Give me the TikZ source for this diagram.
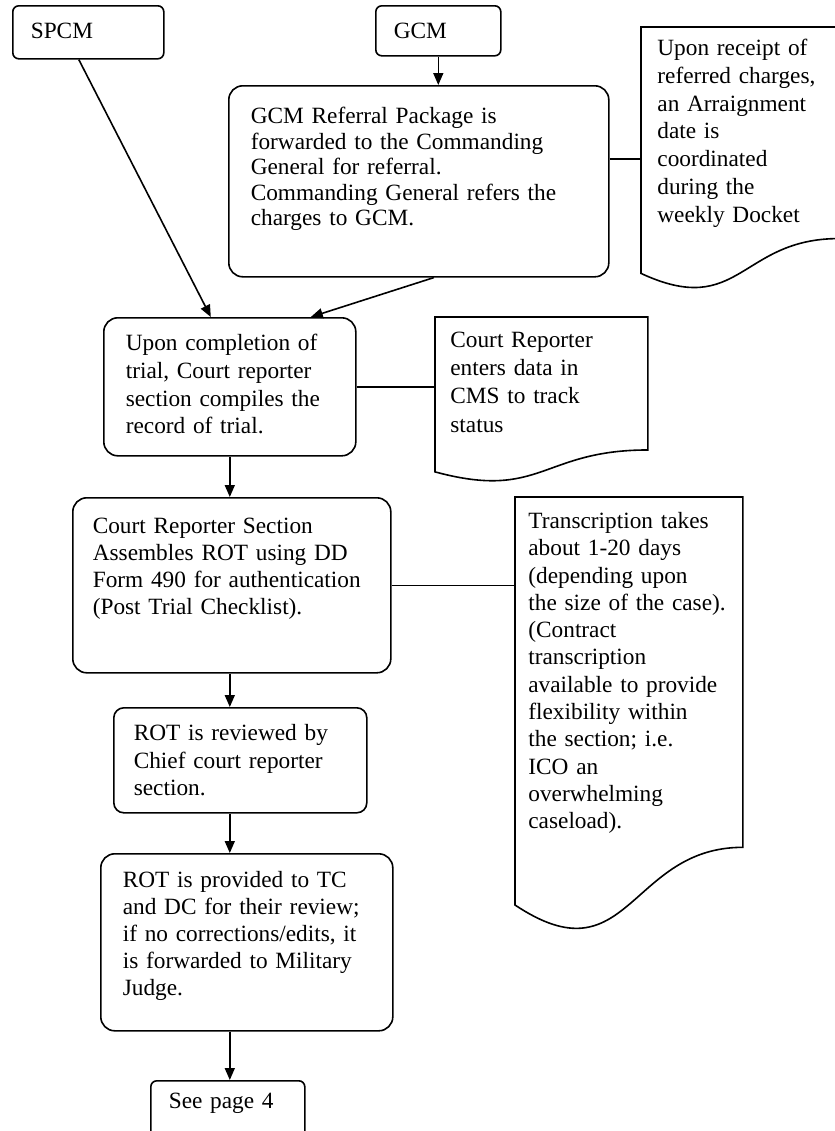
\documentclass[tikz,border=0pt]{standalone}
\usepackage{fontspec}
\setmainfont{Liberation Serif}
\usetikzlibrary{arrows.meta, calc, positioning}
\tikzstyle{process} = [draw, line width=0.8pt, rounded corners=7pt, anchor=north west, align=left, inner ysep=0pt]
\tikzstyle{startstop} = [process, rounded corners=3pt]
\tikzstyle{docnote} = [anchor=north west, align=left, inner ysep=0pt]
\tikzstyle{arrow} = [line width=0.8pt,->,>={Triangle[length=6pt,width=5pt]},draw=black]
\tikzstyle{link} = [line width=0.8pt,draw=black]

% wavy-bottom document outline round a plain node
\newcommand{\docoutline}[1]{%
  \draw[line width=0.8pt] (#1.north west) -- (#1.north east)
    -- ($(#1.north east)!0.802!(#1.south east)$)
    .. controls ($(#1.north)!0.802!(#1.south)$) and ($(#1.north)!1.108!(#1.south)$)
    .. ($(#1.north west)!0.934!(#1.south west)$) -- cycle;}

\begin{document}
\begin{tikzpicture}[x=0.5pt,y=-0.5pt,font=\fontsize{11.65}{13.7}\selectfont]
    \useasboundingbox (0,0) rectangle (835,1131);

    \node (spcm) [startstop, inner xsep=9pt, text width=57.5pt, text height=16.5pt, text depth=10pt] at (12,5) {SPCM};
    \node (gcm) [startstop, inner xsep=9pt, text width=44.5pt, text height=16.5pt, text depth=8.5pt] at (375,5) {GCM};
    \node (referral) [process, font=\fontsize{11.65}{12.7}\selectfont, inner xsep=11pt, text width=168pt, text height=19pt, text depth=76.5pt] at (228,85)
        {GCM Referral Package is\\ forwarded to the Commanding\\ General for referral.\\ Commanding General refers the\\ charges to GCM.};
    \node (receipt) [docnote, font=\fontsize{11.65}{13.9}\selectfont, inner xsep=8pt, text width=82.5pt, text height=14pt, text depth=117.5pt] at (641,27)
        {Upon receipt of\\ referred charges,\\ an Arraignment\\ date is\\ coordinated\\ during the\\ weekly Docket};

    \node (trial) [process, font=\fontsize{11.65}{13.85}\selectfont, inner xsep=11pt, text width=104pt, text height=16.5pt, text depth=52.5pt] at (103,317)
        {Upon completion of\\ trial, Court reporter\\ section compiles the\\ record of trial.};
    \node (cms) [docnote, font=\fontsize{11.65}{14.1}\selectfont, inner xsep=7.5pt, text width=91pt, text height=15pt, text depth=67.5pt] at (435,317)
        {Court Reporter\\ enters data in\\ CMS to track\\ status};

    \node (assemble) [process, font=\fontsize{11.65}{13.5}\selectfont, inner xsep=10pt, text width=139pt, text height=18pt, text depth=69.5pt] at (72,497)
        {Court Reporter Section\\ Assembles ROT using DD\\ Form 490 for authentication\\ (Post Trial Checklist).};
    \node (transcribe) [docnote, font=\fontsize{11.65}{13.65}\selectfont, inner xsep=6.5pt, text width=100.5pt, text height=15.5pt, text depth=202.5pt] at (515,497)
        {Transcription takes\\ about 1-20 days\\ (depending upon\\ the size of the case).\\ (Contract\\ transcription\\ available to provide\\ flexibility within\\ the section; i.e.\\ ICO an\\ overwhelming\\ caseload).};

    \node (review) [process, rounded corners=5pt, font=\fontsize{11.65}{13.75}\selectfont, inner xsep=10pt, text width=106.5pt, text height=16.5pt, text depth=36pt] at (113,707)
        {ROT is reviewed by\\ Chief court reporter\\ section.};
    \node (provide) [process, font=\fontsize{11.65}{13.5}\selectfont, inner xsep=11pt, text width=124pt, text height=17pt, text depth=71.5pt] at (100,853)
        {ROT is provided to TC\\ and DC for their review;\\ if no corrections/edits, it\\ is forwarded to Military\\ Judge.};
    \node (seepage) [startstop, inner xsep=9pt, text width=59pt, text height=14pt, text depth=16pt] at (150,1080) {See page 4};

    \docoutline{receipt}
    \docoutline{cms}
    \docoutline{transcribe}

    \draw[arrow] ([xshift=-4.75pt]spcm.south) -- ([xshift=-9.5pt]trial.north);
    \draw[arrow] (gcm.south) -- (gcm.south |- referral.north);
    \draw[arrow] ([xshift=7.5pt]referral.south) -- ([xshift=40.5pt]trial.north);
    \draw[link] (referral.east |- receipt.west) -- (receipt.west);
    \draw[link] (trial.east) -- (trial.east -| cms.west);
    \draw[link] (assemble.east) -- (assemble.east -| transcribe.west);
    \draw[arrow] (trial.south) -- (trial.south |- assemble.north);
    \draw[arrow] (trial.south |- assemble.south) -- (trial.south |- review.north);
    \draw[arrow] (trial.south |- review.south) -- (trial.south |- provide.north);
    \draw[arrow] (trial.south |- provide.south) -- (trial.south |- seepage.north);

\end{tikzpicture}
\end{document}
